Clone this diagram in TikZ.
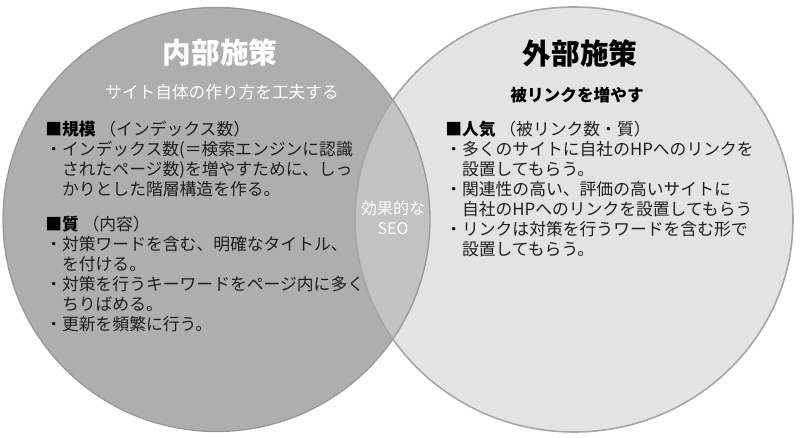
\documentclass[tikz,border=0pt]{standalone}
\usepackage{fontspec}
\setmainfont{Noto Sans CJK JP}
\definecolor{innergray}{RGB}{174,174,174}
\definecolor{outergray}{RGB}{227,227,227}
\definecolor{lensgray}{RGB}{194,194,194}
\definecolor{bodytext}{RGB}{30,30,30}
\begin{document}
\begin{tikzpicture}[x=0.75pt,y=-0.75pt,
    titletext/.style={font=\fontsize{21.5}{26}\selectfont\bfseries},
    subtext/.style={font=\fontsize{12.5}{15}\selectfont},
    bodyblock/.style={font=\fontsize{12.6}{15}\selectfont,align=left,anchor=north west,inner sep=0pt,text=bodytext}]
    \fill[white] (0,0) rectangle (800,438);
    \useasboundingbox (0,0) rectangle (800,438);

    \fill[innergray] (216.5,219.5) ellipse [x radius=213.5, y radius=212];
    \fill[outergray] (574,219.5) ellipse [x radius=219, y radius=212.5];
    \begin{scope}
    \clip (216.5,219.5) ellipse [x radius=213.5, y radius=212];
    \fill[lensgray] (574,219.5) ellipse [x radius=219, y radius=212.5];
    \end{scope}
    \draw[line width=1pt,draw=black!40] (216.5,219.5) ellipse [x radius=213.5, y radius=212];
    \draw[line width=1.2pt,draw=black!35] (574,219.5) ellipse [x radius=219, y radius=212.5];

    \node[titletext,text=white] (innertitle) at (220,53) {内部施策};
    \node[subtext,text=white] (innersub) at (222,92) {サイト自体の作り方を工夫する};
    \node[titletext,text=black] (outertitle) at (580,53) {外部施策};
    \node[subtext,text=black,font=\fontsize{12.5}{15}\selectfont\bfseries] (outersub) at (577,95) {被リンクを増やす};

    \node[bodyblock] (scale) at (45,121) {\textbf{\color{black}■規模} （インデックス数）\\
    ・インデックス数(＝検索エンジンに認識\\
    \hspace*{1em}されたページ数)を増やすために、しっ\\
    \hspace*{1em}かりとした階層構造を作る。};

    \node[bodyblock] (quality) at (45,216) {\textbf{\color{black}■質} （内容）\\
    ・対策ワードを含む、明確なタイトル、\\
    \hspace*{1em}を付ける。\\
    ・対策を行うキーワードをページ内に多く\\
    \hspace*{1em}ちりばめる。\\
    ・更新を頻繁に行う。};

    \node[bodyblock] (popular) at (445,121) {\textbf{\color{black}■人気} （被リンク数・質）\\
    ・多くのサイトに自社のHPへのリンクを\\
    \hspace*{1em}設置してもらう。\\
    ・関連性の高い、評価の高いサイトに\\
    \hspace*{1em}自社のHPへのリンクを設置してもらう\\
    ・リンクは対策を行うワードを含む形で\\
    \hspace*{1em}設置してもらう。};

    \node[font=\fontsize{12}{15}\selectfont,align=center,text=white] (seo) at (393,218) {効果的な\\SEO};
\end{tikzpicture}
\end{document}
